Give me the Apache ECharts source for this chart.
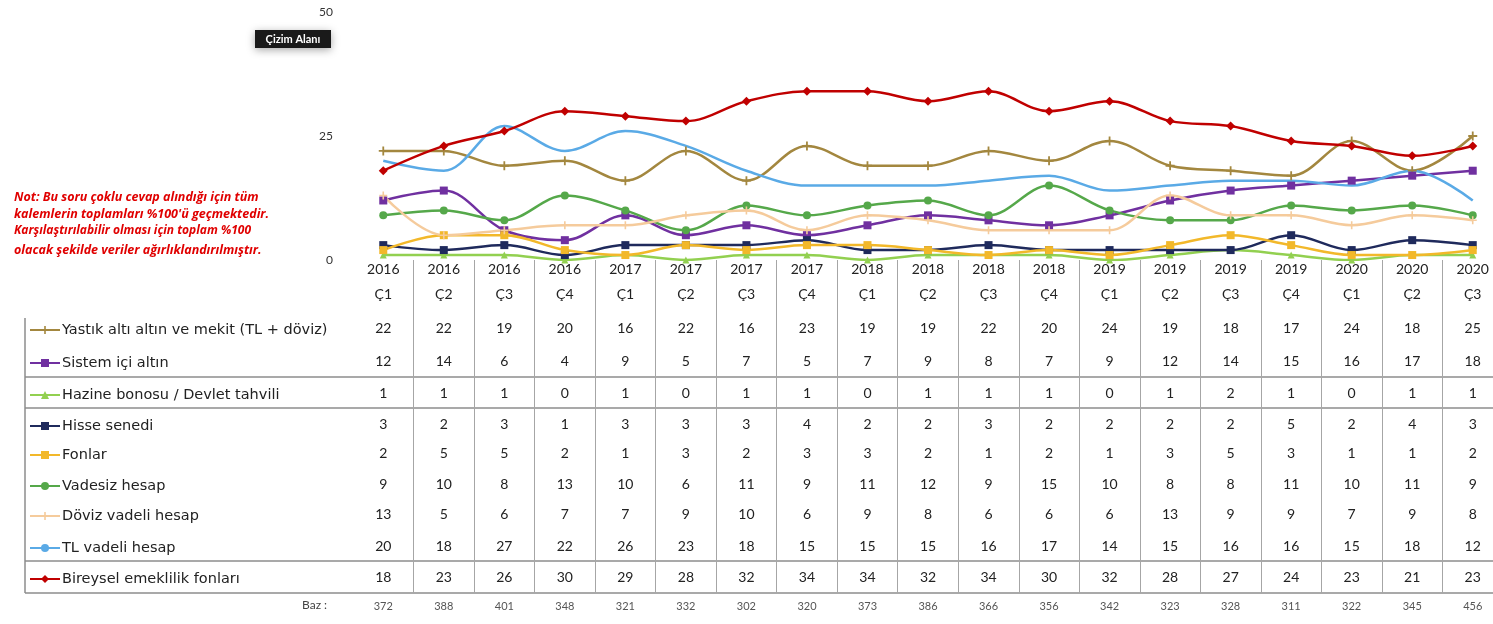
<!DOCTYPE html>
<html><head><meta charset="utf-8">
<script src="https://cdn.jsdelivr.net/npm/echarts@6/dist/echarts.min.js"></script>
<style>html,body{margin:0;padding:0;background:#fff}#c{width:1493px;height:624px}</style>
</head><body><div id="c"></div>
<script>
const categories = ['2016\nÇ1','2016\nÇ2','2016\nÇ3','2016\nÇ4','2017\nÇ1','2017\nÇ2','2017\nÇ3','2017\nÇ4','2018\nÇ1','2018\nÇ2','2018\nÇ3','2018\nÇ4','2019\nÇ1','2019\nÇ2','2019\nÇ3','2019\nÇ4','2020\nÇ1','2020\nÇ2','2020\nÇ3'];
const yastik  = [22,22,19,20,16,22,16,23,19,19,22,20,24,19,18,17,24,18,25];
const sistem  = [12,14,6,4,9,5,7,5,7,9,8,7,9,12,14,15,16,17,18];
const hazine  = [1,1,1,0,1,0,1,1,0,1,1,1,0,1,2,1,0,1,1];
const hisse   = [3,2,3,1,3,3,3,4,2,2,3,2,2,2,2,5,2,4,3];
const fonlar  = [2,5,5,2,1,3,2,3,3,2,1,2,1,3,5,3,1,1,2];
const vadesiz = [9,10,8,13,10,6,11,9,11,12,9,15,10,8,8,11,10,11,9];
const doviz   = [13,5,6,7,7,9,10,6,9,8,6,6,6,13,9,9,7,9,8];
const tlVadeli= [20,18,27,22,26,23,18,15,15,15,16,17,14,15,16,16,15,18,12];
const bes     = [18,23,26,30,29,28,32,34,34,32,34,30,32,28,27,24,23,21,23];
const baz     = [372,388,401,348,321,332,302,320,373,386,366,356,342,323,328,311,322,345,456];
const yMin = 0, yMax = 50, yInterval = 25;
const noteLines = [
  'Not: Bu soru çoklu cevap alındığı için tüm',
  'kalemlerin toplamları %100\'ü geçmektedir.',
  'Karşılaştırılabilir olması için toplam %100',
  'olacak şekilde veriler ağırlıklandırılmıştır.'
];

const plus = 'path://M4,0L6,0L6,4L10,4L10,6L6,6L6,10L4,10L4,6L0,6L0,4L4,4Z';
const seriesDefs = [
  {name:'Yastık altı altın ve mekit (TL + döviz)', data:yastik, color:'#a3873f', symbol:plus, size:9},
  {name:'Sistem içi altın', data:sistem, color:'#7030a0', symbol:'rect', size:8},
  {name:'Hazine bonosu / Devlet tahvili', data:hazine, color:'#92d050', symbol:'triangle', size:7},
  {name:'Hisse senedi', data:hisse, color:'#1f2a5c', symbol:'rect', size:8},
  {name:'Fonlar', data:fonlar, color:'#f2b82a', symbol:'rect', size:8},
  {name:'Vadesiz hesap', data:vadesiz, color:'#55a84a', symbol:'circle', size:8},
  {name:'Döviz vadeli hesap', data:doviz, color:'#f5cb9c', symbol:plus, size:8},
  {name:'TL vadeli hesap', data:tlVadeli, color:'#5aaae6', symbol:'none', size:0},
  {name:'Bireysel emeklilik fonları', data:bes, color:'#c00000', symbol:'diamond', size:9}
];
const rowY = [328, 361, 393, 424, 453, 484, 514, 546, 577];
const bazY = 606;
const axisBottomY = 260;
const font = 'Lato, "Open Sans", sans-serif';

const chart = echarts.init(document.getElementById('c'), null, {renderer:'canvas'});

const xAxes = [];
xAxes.push({
  type:'category', data:categories, boundaryGap:true, position:'bottom',
  axisLine:{show:false}, axisLabel:{show:false},
  axisTick:{show:true, length:333, interval:function(i){return i>0;}, lineStyle:{color:'#a6a6a6', width:1}}
});
xAxes.push({
  type:'category', data:categories, boundaryGap:true, position:'bottom', offset:22,
  axisLine:{show:false}, axisTick:{show:false},
  axisLabel:{interval:0, margin:0, verticalAlign:'middle', lineHeight:25, fontSize:14, color:'#222', fontFamily:font}
});
seriesDefs.forEach((s, k) => {
  xAxes.push({
    type:'category', data:s.data.map(String), boundaryGap:true, position:'bottom', offset:rowY[k]-axisBottomY,
    axisLine:{show:false}, axisTick:{show:false},
    axisLabel:{interval:0, margin:0, verticalAlign:'middle', fontSize:14, color:'#222', fontFamily:font}
  });
});
xAxes.push({
  type:'category', data:baz.map(String), boundaryGap:true, position:'bottom', offset:bazY-axisBottomY,
  axisLine:{show:false}, axisTick:{show:false},
  axisLabel:{interval:0, margin:0, verticalAlign:'middle', fontSize:11, color:'#555', fontFamily:font}
});

const legends = seriesDefs.map((s, k) => ({
  data:[s.name], left:29, top:rowY[k]-7, orient:'horizontal',
  itemWidth:30, itemHeight:10, itemGap:2, selectedMode:false, padding:0,
  textStyle:{fontSize:14.5, lineHeight:18, color:'#222', fontFamily:'"DejaVu Sans", sans-serif', padding:[0,0,0,-3]}
}));

const tableLine = (y) => ({type:'line', shape:{x1:25, y1:y, x2:1493, y2:y}, style:{stroke:'#8c8c8c', lineWidth:1.5}});
const noteFont = '"Open Sans", sans-serif';
const noteStyle = (t, size) => ({text:t, fontSize:size, fill:'#e00000', fontStyle:'italic', fontWeight:'bold', fontFamily:noteFont, verticalAlign:'middle'});

chart.setOption({
  animation:false,
  backgroundColor:'#fff',
  grid:{left:353, right:-10, top:12, bottom:624-axisBottomY, outerBoundsMode:'none', containLabel:false},
  legend:legends,
  xAxis:xAxes,
  yAxis:{type:'value', min:yMin, max:yMax, interval:yInterval,
    axisLine:{show:false}, axisTick:{show:false}, splitLine:{show:false},
    axisLabel:{margin:20, fontSize:12, color:'#333', fontFamily:font}},
  series:seriesDefs.map(s => ({
    name:s.name, type:'line', data:s.data, xAxisIndex:0, smooth:0.35,
    symbol:s.symbol, symbolSize:s.size, showSymbol:s.symbol!=='none',
    lineStyle:{color:s.color, width:2.5}, itemStyle:{color:s.color},
    emphasis:{disabled:true}
  })),
  graphic:[
    tableLine(377), tableLine(408), tableLine(561), tableLine(593),
    {type:'line', shape:{x1:25, y1:318, x2:25, y2:593}, style:{stroke:'#8c8c8c', lineWidth:1.5}},
    {type:'text', left:302, top:bazY-7, style:{text:'Baz :', fontSize:12, fill:'#444', fontFamily:font}},
    {type:'rect', shape:{x:255, y:30, width:76, height:18}, style:{fill:'#1a1a1a', shadowBlur:8, shadowColor:'rgba(0,0,0,0.35)', shadowOffsetY:2}},
    {type:'text', x:293, y:39, style:{text:'Çizim Alanı', fontSize:11, fill:'#fff', align:'center', verticalAlign:'middle', fontFamily:font, fontWeight:'bold'}},
    {type:'text', x:14, y:197, style:noteStyle(noteLines[0], 12.5)},
    {type:'text', x:14, y:214, style:noteStyle(noteLines[1], 12.5)},
    {type:'text', x:14, y:231, style:noteStyle(noteLines[2], 12)},
    {type:'text', x:14, y:250, style:noteStyle(noteLines[3], 12.5)}
  ]
});
</script></body></html>
